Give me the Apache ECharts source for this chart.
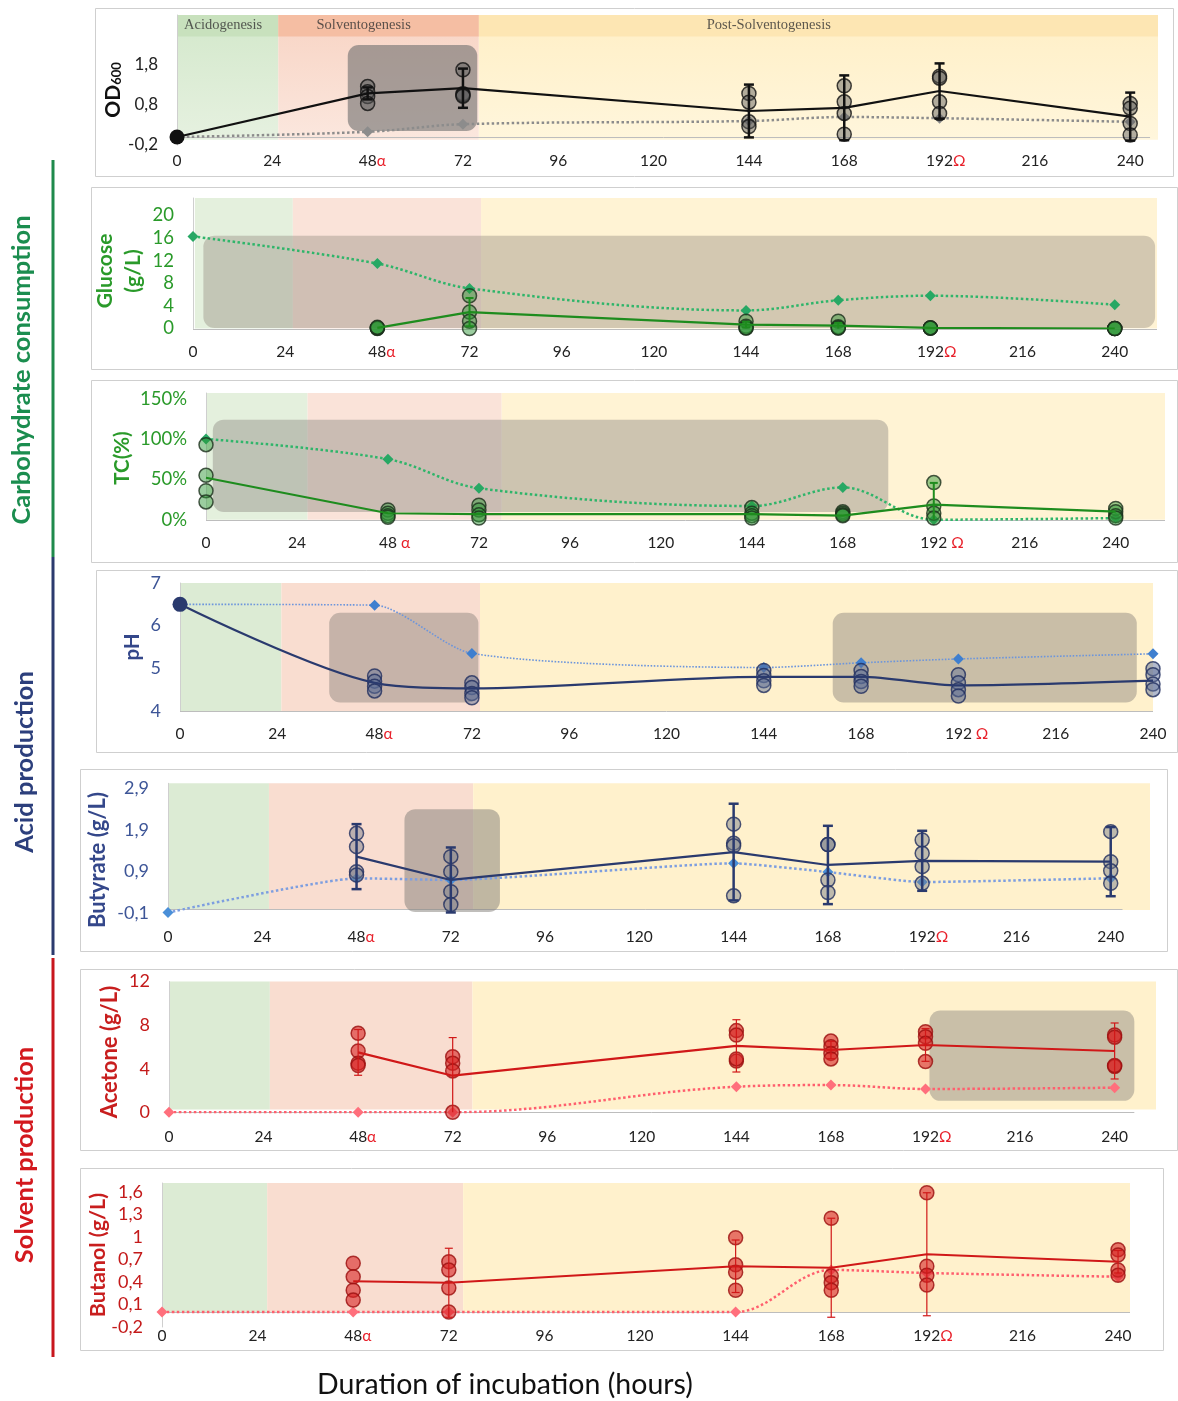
<!DOCTYPE html>
<html>
<head>
<meta charset="utf-8">
<script src="https://cdn.jsdelivr.net/npm/echarts@6.0.0/dist/echarts.min.js"></script>
<style>
  html, body { margin: 0; padding: 0; background: #ffffff; }
  #chart { width: 1178px; height: 1401px; }
</style>
</head>
<body>
<div id="chart"></div>
<script>
// ---- sampling times and tick labels ----
const hours = [0, 48, 72, 144, 168, 192, 240];
const hourTicks = ['0', '24', '48', '72', '96', '120', '144', '168', '192', '216', '240'];
const phaseNames = ['Acidogenesis', 'Solventogenesis', 'Post-Solventogenesis'];

// ---- OD600 ----
const odMean = [0, 1.09, 1.22, 0.65, 0.73, 1.15, 0.51];
const odErr = [null, 0.15, 0.49, 0.66, 0.81, 0.69, 0.60];
const odReps = [[], [1.26, 1.13, 1.01, 0.84], [1.68, 1.08, 1.05, 1.02], [1.09, 0.87, 0.38, 0.26], [1.28, 0.88, 0.59, 0.07], [1.52, 1.47, 0.88, 0.59], [0.84, 0.72, 0.34, 0.05]];
const odControl = [0, 0.13, 0.32, 0.40, 0.50, 0.47, 0.38];
const odTicks = ['-0,2', '0,8', '1,8'];
const odPhases = [0, 25.5, 76, 247];
const odBoxes = [[43, 75.6, 0.15, 2.3]];

// ---- Glucose (g/L) ----
const gluMean = [null, 0.1, 2.9, 0.7, 0.5, 0.1, 0.0];
const gluErr = [null, null, 2.5, 0.5, 0.5, null, null];
const gluReps = [[], [0.0, 0.1, 0.1, 0.2], [5.8, 2.9, 1.3, 0.0], [1.3, 0.4, 0.1, 0.1], [1.3, 0.3, 0.1, 0.1], [0.1, 0.1, 0.1, 0.1], [0, 0, 0, 0]];
const gluControl = [16.3, 11.5, 7.1, 3.2, 5.0, 5.8, 4.2];
const gluTicks = ['0', '4', '8', '12', '16', '20'];
const gluPhases = [0.5, 26, 75, 251];
const gluBoxes = [[2.7, 250.5, 0.1, 16.4]];

// ---- Total carbohydrate TC (%) ----
const tcMean = [0.52, 0.08, 0.07, 0.07, 0.05, 0.186, 0.10];
const tcErr = [null, null, null, null, null, 0.27, null];
const tcReps = [[0.93, 0.55, 0.36, 0.22], [0.12, 0.08, 0.05, 0.03], [0.18, 0.12, 0.06, 0.02], [0.15, 0.08, 0.05, 0.02], [0.10, 0.08, 0.06, 0.05], [0.46, 0.17, 0.08, 0.02], [0.14, 0.10, 0.05, 0.02]];
const tcControl = [1.0, 0.75, 0.39, 0.17, 0.40, 0.0, 0.02];
const tcTicks = ['0%', '50%', '100%', '150%'];
const tcPhases = [0, 26.8, 78, 253];
const tcBoxes = [[1.8, 180, 0.095, 1.24]];

// ---- pH ----
const phMean = [6.5, 4.66, 4.53, 4.8, 4.8, 4.6, 4.71];
const phErr = [null, null, null, null, null, null, null];
const phReps = [[], [4.82, 4.7, 4.58, 4.47], [4.66, 4.55, 4.41, 4.31], [4.95, 4.83, 4.71, 4.6], [4.95, 4.81, 4.69, 4.58], [4.85, 4.66, 4.5, 4.35], [4.99, 4.85, 4.63, 4.5]];
const phControl = [6.5, 6.48, 5.35, 5.02, 5.13, 5.22, 5.34];
const phTicks = ['4', '5', '6', '7'];
const phPhases = [0, 25, 74, 240];
const phBoxes = [[36.8, 73.6, 4.2, 6.3], [161, 236, 4.2, 6.3]];

// ---- Butyrate (g/L) ----
const butMean = [null, 1.26, 0.70, 1.37, 1.06, 1.16, 1.14];
const butErr = [null, 0.78, 0.78, 1.16, 0.94, 0.72, 0.83];
const butReps = [[], [1.82, 1.5, 0.9, 0.82], [1.26, 0.9, 0.42, 0.11], [2.04, 1.58, 1.52, 0.32], [1.55, 1.55, 0.7, 0.4], [1.66, 1.34, 1.02, 0.62], [1.86, 1.14, 0.92, 0.62]];
const butControl = [-0.08, 0.74, 0.70, 1.10, 0.89, 0.65, 0.74];
const butTicks = ['-0,1', '0,9', '1,9', '2,9'];
const butPhases = [0, 25.7, 77.7, 250];
const butBoxes = [[60.2, 84.5, -0.07, 2.4]];

// ---- Acetone (g/L) ----
const aceMean = [null, 5.5, 3.36, 6.1, 5.72, 6.18, 5.63];
const aceErr = [null, 2.1, 3.5, 2.4, 0.8, 1.5, 2.57];
const aceReps = [[], [7.25, 5.63, 4.5, 4.3], [5.1, 4.5, 3.8, 0.0], [7.5, 7.1, 4.7, 4.9], [6.54, 6.02, 5.41, 4.9], [7.4, 6.94, 6.33, 4.66], [7.1, 6.9, 4.2, 4.3]];
const aceControl = [0, 0, 0, 2.35, 2.5, 2.14, 2.26];
const aceTicks = ['0', '4', '8', '12'];
const acePhases = [0, 25.6, 77, 250.5];
const aceBoxes = [[193, 245, 1.05, 9.35]];

// ---- Butanol (g/L) ----
const bolMean = [null, 0.41, 0.39, 0.61, 0.59, 0.77, 0.67];
const bolErr = [null, null, 0.46, 0.35, 0.66, 0.82, 0.15];
const bolReps = [[], [0.65, 0.47, 0.29, 0.16], [0.67, 0.56, 0.32, 0.0], [0.99, 0.63, 0.53, 0.29], [1.25, 0.48, 0.39, 0.29], [1.59, 0.61, 0.49, 0.36], [0.83, 0.76, 0.56, 0.49]];
const bolControl = [0, 0, 0, 0, 0.56, 0.52, 0.47];
const bolTicks = ['-0,2', '0,1', '0,4', '0,7', '1', '1,3', '1,6'];
const bolPhases = [0, 26.4, 75.6, 243];

// ---- formatting helpers ----
const FONT = 'Lato, "Open Sans", "DejaVu Sans", sans-serif';
const fmtComma = v => String(Math.round(v * 100) / 100).replace('.', ',');
const fmtPlain = v => String(Math.round(v * 10) / 10);
const fmtPct = v => Math.round(v * 100) + '%';

const lg = (a, b) => new echarts.graphic.LinearGradient(0, 0, 0, 1, [{ offset: 0, color: a }, { offset: 1, color: b }]);
const bandsDefault = ['#dcebd4', '#f9ddd0', '#fff1cc'];
const bandsSoft = ['#e4f0dd', '#fae3d9', '#fff3d4'];
const bandsOd = [lg('#d3e8cb', '#e6f1e0'), lg('#f8d4c4', '#fbe7de'), lg('#ffefc6', '#fff6dc')];
const headerOd = ['#c8e1bd', '#f5bea3', '#fde6b3'];

const GREEN = { line: '#1e8c1e', repFill: 'rgba(45,150,55,0.6)', repEdge: '#1c2e1c', ctrl: '#2fb56a', diamond: '#27a864', label: '#2a9a2a' };
const NAVY = { line: '#2a3a6e', repFill: 'rgba(95,110,150,0.6)', repEdge: '#1f2d5e', ctrl: '#6c95dc', diamond: '#3f7fcf', label: '#3d5597' };
const RED = { line: '#d01818', repFill: 'rgba(215,35,35,0.75)', repEdge: '#9a0e0e', ctrl: '#ff5f6e', diamond: '#ff6f7c', label: '#c41a1a' };

const panels = [
  { grid: { left: 177, top: 15, width: 981, height: 130 }, xMax: 247, xLineEnd: 245, y: { min: -0.2, max: 3.05, interval: 1 },
    ticks: odTicks, fmt: fmtComma, mean: odMean, err: odErr, reps: odReps, ctrl: odControl,
    phases: odPhases, band: [-0.07, 3.05], bandColors: bandsOd, header: [2.51, 3.05], boxes: odBoxes,
    boxColor: 'rgba(110,110,110,0.6)',
    color: { line: '#111111', repFill: 'rgba(95,95,95,0.6)', repEdge: '#111111', ctrl: '#8c8c8c', diamond: '#8c8c8c', label: '#222222' },
    errW: 2.5, cap: 5, xMargin: 8, gapA: '', gapO: '', startDot: true, ySize: 17 },
  { grid: { left: 193, top: 198, width: 964, height: 130.5 }, xMax: 251, xLineEnd: 251, y: { min: 0, max: 23.1, interval: 4 },
    ticks: gluTicks, fmt: fmtPlain, mean: gluMean, err: gluErr, reps: gluReps, ctrl: gluControl,
    phases: gluPhases, band: [0, 23.1], bandColors: bandsSoft, boxes: gluBoxes, boxColor: 'rgba(150,140,128,0.42)',
    color: GREEN, errW: 2, cap: 4, xMargin: 15, gapA: '', gapO: '', ySize: 18.5 },
  { grid: { left: 206, top: 393, width: 959, height: 126.7 }, xMax: 253, xLineEnd: 253, y: { min: 0, max: 1.57, interval: 0.5 },
    ticks: tcTicks, fmt: fmtPct, mean: tcMean, err: tcErr, reps: tcReps, ctrl: tcControl,
    phases: tcPhases, band: [0, 1.57], bandColors: bandsSoft, boxes: tcBoxes, boxColor: 'rgba(145,140,132,0.45)',
    color: GREEN, errW: 2, cap: 4, xMargin: 15, gapA: ' ', gapO: ' ', ySize: 18.5 },
  { grid: { left: 180, top: 583, width: 973, height: 128 }, xMax: 240, xLineEnd: 240, y: { min: 4, max: 7, interval: 1 },
    ticks: phTicks, fmt: fmtPlain, mean: phMean, err: phErr, reps: phReps, ctrl: phControl,
    phases: phPhases, band: [4, 7], bandColors: bandsDefault, boxes: phBoxes, boxColor: 'rgba(135,128,122,0.45)',
    color: NAVY, errW: 2, cap: 4, xMargin: 15, gapA: '', gapO: ' ', startDot: true, smoothMean: 0.3, ctrlSmooth: 0.25, ctrlW: 1.6, ySize: 18 },
  { grid: { left: 168, top: 783.3, width: 982, height: 130 }, xMax: 250, xLineEnd: 243, y: { min: -0.1, max: 3.02, interval: 1 },
    ticks: butTicks, fmt: fmtComma, mean: butMean, err: butErr, reps: butReps, ctrl: butControl,
    phases: butPhases, band: [-0.02, 3.02], bandColors: bandsDefault, boxes: butBoxes, boxColor: 'rgba(130,125,120,0.5)',
    color: Object.assign({}, NAVY, { repFill: 'rgba(120,125,140,0.6)', ctrl: '#7d9ee0', diamond: '#4a8fd8' }),
    errW: 2.5, cap: 5, xMargin: 16, gapA: '', gapO: '', ctrlSmooth: 0.15, ySize: 18 },
  { grid: { left: 169, top: 981.6, width: 987, height: 130.7 }, xMax: 250.5, xLineEnd: 245, y: { min: 0, max: 12, interval: 4 },
    ticks: aceTicks, fmt: fmtPlain, mean: aceMean, err: aceErr, reps: aceReps, ctrl: aceControl,
    phases: acePhases, band: [0.25, 12], bandColors: bandsDefault, boxes: aceBoxes, boxColor: 'rgba(135,130,125,0.45)',
    color: RED, errW: 1.2, cap: 4, xMargin: 17, gapA: '', gapO: '', ySize: 18 },
  { grid: { left: 162, top: 1183, width: 968, height: 144 }, xMax: 243, xLineEnd: 243, y: { min: -0.2, max: 1.72, interval: 0.3 },
    ticks: bolTicks, fmt: fmtComma, mean: bolMean, err: bolErr, reps: bolReps, ctrl: bolControl,
    phases: bolPhases, band: [0, 1.72], bandColors: bandsDefault, boxes: [], boxColor: 'rgba(0,0,0,0)',
    color: RED, errW: 1.2, cap: 4, xMargin: 1, gapA: '', gapO: '', ySize: 18 }
];

const grids = [], xAxes = [], yAxes = [], series = [];

panels.forEach((p, i) => {
  grids.push(Object.assign({ containLabel: false }, p.grid));

  xAxes.push({
    type: 'value', gridIndex: i, min: 0, max: p.xMax, interval: 24,
    axisLine: { show: false },
    axisTick: { show: false }, splitLine: { show: false },
    axisLabel: {
      margin: p.xMargin, fontFamily: FONT, fontSize: 15.5, color: '#222',
      showMinLabel: true, showMaxLabel: true, hideOverlap: false,
      formatter: v => {
        const r = Math.round(v);
        if (Math.abs(v - r) > 1e-6) return '';
        const s = String(r);
        if (!hourTicks.includes(s)) return '';
        if (s === '48') return '{h|' + p.gapA + 'α}48{a|' + p.gapA + 'α}';
        if (s === '192') return '{h|' + p.gapO + 'Ω}192{a|' + p.gapO + 'Ω}';
        return s;
      },
      rich: {
        h: { color: 'rgba(0,0,0,0)', fontFamily: FONT, fontSize: 15.5 },
        a: { color: '#e8202a', fontFamily: FONT, fontSize: 15.5 }
      }
    }
  });

  yAxes.push({
    type: 'value', gridIndex: i, min: p.y.min, max: p.y.max, interval: p.y.interval,
    axisLine: { show: true, onZero: false, lineStyle: { color: '#cfcfcf', width: 1 } },
    axisTick: { show: false }, splitLine: { show: false },
    axisLabel: {
      margin: 19, fontFamily: FONT, fontSize: p.ySize, color: p.color.label,
      showMinLabel: true, showMaxLabel: true,
      formatter: v => { const s = p.fmt(v); return p.ticks.includes(s) ? s : ''; }
    }
  });

  // phase background bands
  const bandData = [];
  for (let k = 0; k < 3; k++) bandData.push([p.phases[k], p.phases[k + 1], p.band[0], p.band[1], k, 0]);
  if (p.header) for (let k = 0; k < 3; k++) bandData.push([p.phases[k], p.phases[k + 1], p.header[0], p.header[1], k, 1]);
  series.push({
    type: 'custom', xAxisIndex: i, yAxisIndex: i, z: 0, silent: true, clip: false,
    data: bandData,
    renderItem: (params, api) => {
      const a = api.coord([api.value(0), api.value(3)]);
      const b = api.coord([api.value(1), api.value(2)]);
      const k = api.value(4);
      const fill = api.value(5) === 1 ? headerOd[k] : p.bandColors[k];
      return { type: 'rect', shape: { x: a[0], y: a[1], width: b[0] - a[0], height: b[1] - a[1] }, style: { fill: fill } };
    }
  });

  // horizontal baseline, drawn where the value axis crosses zero (or at its minimum)
  const base = Math.max(0, p.y.min);
  series.push({
    type: 'custom', xAxisIndex: i, yAxisIndex: i, z: 1, silent: true, clip: false,
    data: [[0, base, p.xLineEnd]],
    renderItem: (params, api) => {
      const a = api.coord([api.value(0), api.value(1)]);
      const b = api.coord([api.value(2), api.value(1)]);
      return { type: 'line', shape: { x1: a[0], y1: Math.round(a[1]) + 0.5, x2: b[0], y2: Math.round(b[1]) + 0.5 }, style: { stroke: '#bdbdbd', lineWidth: 1 } };
    }
  });

  // highlighted windows (rounded translucent boxes)
  if (p.boxes.length) {
    series.push({
      type: 'custom', xAxisIndex: i, yAxisIndex: i, z: 1, silent: true, clip: false,
      data: p.boxes,
      renderItem: (params, api) => {
        const a = api.coord([api.value(0), api.value(3)]);
        const b = api.coord([api.value(1), api.value(2)]);
        return { type: 'rect', shape: { x: a[0], y: a[1], width: b[0] - a[0], height: b[1] - a[1], r: 11 }, style: { fill: p.boxColor } };
      }
    });
  }

  // control (dotted, diamonds)
  series.push({
    type: 'line', xAxisIndex: i, yAxisIndex: i, z: 2, silent: true,
    data: hours.map((h, k) => [h, p.ctrl[k]]),
    smooth: p.ctrlSmooth != null ? p.ctrlSmooth : 0.35,
    symbol: 'diamond', symbolSize: 11, showSymbol: true,
    itemStyle: { color: p.color.diamond },
    lineStyle: { color: p.color.ctrl, width: p.ctrlW || 2.5, type: 'dotted' }
  });

  // replicate measurements
  series.push({
    type: 'scatter', xAxisIndex: i, yAxisIndex: i, z: 3, silent: true,
    data: hours.flatMap((h, k) => p.reps[k].map(v => [h, v])),
    symbol: 'circle', symbolSize: 14,
    itemStyle: { color: p.color.repFill, borderColor: p.color.repEdge, borderWidth: 1.5 }
  });

  // mean trajectory
  series.push({
    type: 'line', xAxisIndex: i, yAxisIndex: i, z: 4, silent: true,
    data: hours.map((h, k) => {
      const v = p.mean[k];
      if (k === 0 && p.startDot) {
        return { value: [h, v], symbol: 'circle', symbolSize: 15, itemStyle: { color: p.color.line } };
      }
      return [h, v];
    }),
    smooth: p.smoothMean || false,
    connectNulls: false,
    symbol: 'none', showSymbol: true,
    lineStyle: { color: p.color.line, width: 2.2 }
  });

  // error bars
  series.push({
    type: 'custom', xAxisIndex: i, yAxisIndex: i, z: 5, silent: true, clip: false,
    data: hours.map((h, k) => [h, p.mean[k], p.err[k]]).filter(d => d[2] != null && d[1] != null),
    renderItem: (params, api) => {
      const x = api.value(0), m = api.value(1), e = api.value(2);
      const lo = Math.max(m - e, p.y.min);
      const top = api.coord([x, m + e]);
      const bot = api.coord([x, lo]);
      const st = { stroke: p.color.line, lineWidth: p.errW };
      const kids = [
        { type: 'line', shape: { x1: top[0], y1: top[1], x2: bot[0], y2: bot[1] }, style: st },
        { type: 'line', shape: { x1: top[0] - p.cap, y1: top[1], x2: top[0] + p.cap, y2: top[1] }, style: st }
      ];
      if (m - e > p.y.min) kids.push({ type: 'line', shape: { x1: bot[0] - p.cap, y1: bot[1], x2: bot[0] + p.cap, y2: bot[1] }, style: st });
      return { type: 'group', children: kids };
    }
  });

  // phase names on the header strip
  if (p.header) {
    series.push({
      type: 'scatter', xAxisIndex: i, yAxisIndex: i, z: 6, silent: true,
      symbolSize: 0,
      data: [[11.6, 2.79], [47, 2.79], [149, 2.79]],
      label: {
        show: true, position: 'inside', color: '#333',
        fontFamily: '"Liberation Serif", "DejaVu Serif", serif', fontSize: 14.5,
        formatter: prm => phaseNames[prm.dataIndex]
      }
    });
  }
});

// ---- frames, side titles and axis names ----
const frames = [
  [95, 8, 1078, 168], [91, 187, 1086, 182], [91, 380, 1086, 182], [96, 570, 1081, 182],
  [80, 769, 1087, 182], [80, 969, 1097, 181], [80, 1168, 1083, 182]
];
const graphics = frames.map(f => ({
  type: 'rect', z: -1, silent: true,
  shape: { x: f[0] + 0.5, y: f[1] + 0.5, width: f[2], height: f[3] },
  style: { fill: 'rgba(0,0,0,0)', stroke: '#cfcfcf', lineWidth: 1 }
}));

const vtext = (text, x, y, color, size, lineHeight) => ({
  type: 'text', x: x, y: y, rotation: Math.PI / 2, silent: true,
  style: {
    text: text, fill: color, fontFamily: FONT, fontSize: size, fontWeight: 'bold',
    align: 'center', verticalAlign: 'middle', lineHeight: lineHeight || Math.round(size * 1.2)
  }
});

graphics.push(
  { type: 'rect', silent: true, shape: { x: 51.5, y: 160, width: 3, height: 397 }, style: { fill: '#1f8a4c' } },
  { type: 'rect', silent: true, shape: { x: 51.5, y: 557, width: 3, height: 398 }, style: { fill: '#2b3a6e' } },
  { type: 'rect', silent: true, shape: { x: 51.5, y: 958, width: 3, height: 399 }, style: { fill: '#c8161d' } },
  vtext('Carbohydrate consumption', 22, 370, '#1b8d4f', 25.5),
  vtext('Acid production', 25, 762, '#2c3f7c', 25.5),
  vtext('Solvent production', 25, 1155, '#d3191e', 25.5),
  {
    type: 'text', x: 113, y: 90, rotation: Math.PI / 2, silent: true,
    style: {
      text: '{m|OD}{s|600}', align: 'center', verticalAlign: 'middle',
      rich: {
        m: { fontFamily: FONT, fontSize: 21, fontWeight: 'bold', fill: '#111', color: '#111', verticalAlign: 'bottom' },
        s: { fontFamily: FONT, fontSize: 13, fontWeight: 'bold', fill: '#111', color: '#111', verticalAlign: 'bottom' }
      }
    }
  },
  vtext('Glucose\n(g/L)', 119, 271, '#2a9a2a', 21, 28),
  vtext('TC(%)', 122, 458, '#2a9a2a', 20.5),
  vtext('pH', 132, 647, '#34478a', 20.5),
  vtext('Butyrate (g/L)', 98, 860, '#34478a', 22),
  vtext('Acetone (g/L)', 110, 1052, '#c81e1e', 22),
  vtext('Butanol (g/L)', 98, 1255, '#c81e1e', 21.5),
  {
    type: 'text', x: 505, y: 1385, silent: true,
    style: { text: 'Duration of incubation (hours)', fill: '#111', fontFamily: FONT, fontSize: 28.5, align: 'center', verticalAlign: 'middle' }
  }
);

const chart = echarts.init(document.getElementById('chart'), null, { renderer: 'canvas' });
chart.setOption({
  animation: false,
  backgroundColor: '#ffffff',
  textStyle: { fontFamily: FONT },
  grid: grids,
  xAxis: xAxes,
  yAxis: yAxes,
  series: series,
  graphic: { elements: graphics }
});
</script>
</body>
</html>
